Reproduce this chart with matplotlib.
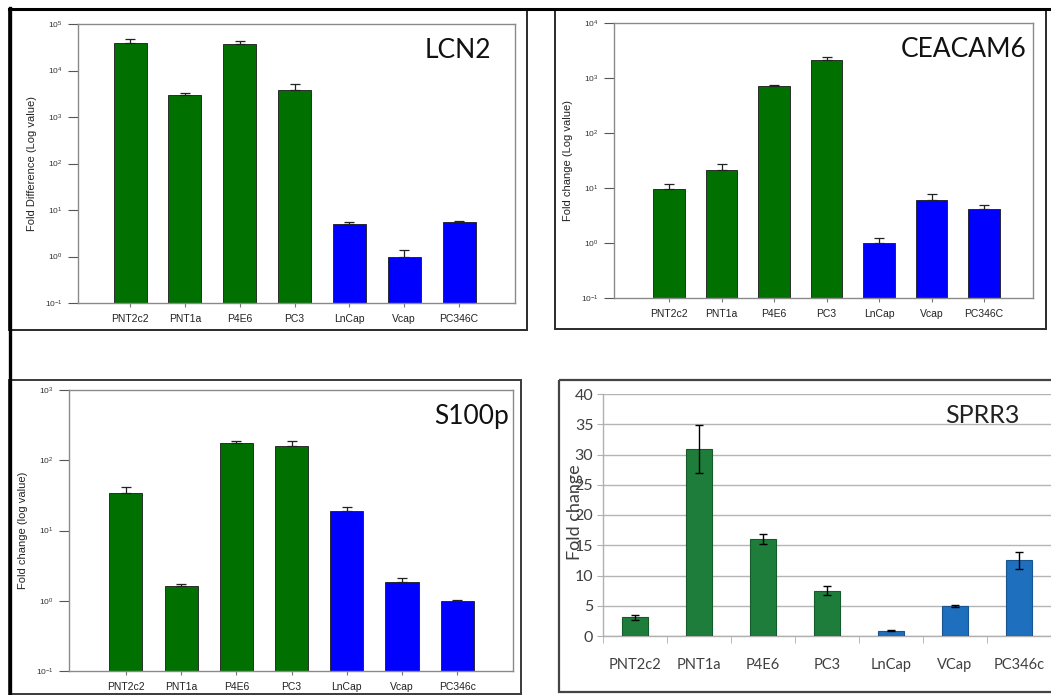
import numpy as np
import matplotlib
matplotlib.use('Agg')
import matplotlib.pyplot as plt
from matplotlib.patches import Rectangle
from matplotlib.ticker import LogLocator, NullLocator, FixedLocator

plt.rcParams['font.family'] = ['Liberation Sans', 'DejaVu Sans']
plt.rcParams['mathtext.fontset'] = 'custom'
plt.rcParams['mathtext.rm'] = 'Liberation Sans'
plt.rcParams['mathtext.it'] = 'Liberation Sans:italic'

# cell lines (first four green, last three blue)
lines_upper = ['PNT2c2', 'PNT1a', 'P4E6', 'PC3', 'LnCap', 'Vcap', 'PC346C']
lines_s100 = ['PNT2c2', 'PNT1a', 'P4E6', 'PC3', 'LnCap', 'Vcap', 'PC346c']
lines_sprr = ['PNT2c2', 'PNT1a', 'P4E6', 'PC3', 'LnCap', 'VCap', 'PC346c']

# LCN2 fold difference (log), bar top and upper error cap
lcn2 = [40000, 3000, 37000, 3900, 4.9, 1.0, 5.4]
lcn2_top = [48000, 3300, 44000, 5100, 5.6, 1.4, 5.7]

# CEACAM6 fold change (log)
ceacam6 = [9.4, 21.4, 707, 2140, 1.0, 6.0, 4.1]
ceacam6_top = [11.7, 27, 760, 2400, 1.25, 7.7, 5.0]

# S100p fold change (log)
s100p = [34, 1.62, 175, 160, 19, 1.83, 1.0]
s100p_top = [42, 1.73, 190, 190, 21.3, 2.1, 1.03]

# SPRR3 fold change (linear) with symmetric error
sprr3 = [3.1, 30.9, 16.05, 7.45, 0.9, 5.0, 12.5]
sprr3_err = [0.45, 3.9, 0.85, 0.75, 0.1, 0.2, 1.4]

W, H = 1051, 695
fig = plt.figure(figsize=(W / 100, H / 100), dpi=100)


def rect(l, t, r, b):
    return [l / W, 1 - b / H, (r - l) / W, (b - t) / H]


green, blue = '#007000', '#0000ff'
cols = [green] * 4 + [blue] * 3


def log_panel(pos, vals, tops, names, ylo, yhi, xlim, ylabel, title, tx):
    ax = fig.add_axes(rect(*pos))
    x = np.arange(len(vals))
    ax.set_yscale('log')
    up = np.array(tops) - np.array(vals)
    ax.bar(x, vals, width=0.6, color=cols, edgecolor='#1a1a1a', linewidth=0.6,
           yerr=[np.zeros(len(vals)), up], error_kw=dict(ecolor='#222', elinewidth=0.9,
                                                          capsize=3.5, capthick=0.9))
    ax.set_ylim(ylo, yhi)
    ax.set_xlim(*xlim)
    ax.yaxis.set_major_locator(LogLocator(base=10, numticks=20))
    ax.yaxis.set_minor_locator(NullLocator())
    ax.set_xticks(x)
    ax.set_xticklabels(names, fontsize=7.5, color='#222')
    ax.tick_params(axis='y', labelsize=6, colors='#555', length=7, width=0.8, pad=4, labelcolor='#333')
    ax.tick_params(axis='x', length=3, width=0.8, colors='#777', pad=5, labelcolor='#222')
    for s in ax.spines.values():
        s.set_color('#8a8a8a')
        s.set_linewidth(1.0)
    ax.set_ylabel(ylabel, fontsize=8, color='#222', labelpad=6)
    ax.text(tx, 0.95, title, transform=ax.transAxes, ha='right', va='top',
            fontsize=19, family=['Lato', 'DejaVu Sans'], color='#111')
    return ax


log_panel((78, 24, 515, 303), lcn2, lcn2_top, lines_upper, 0.1, 1e5, (-0.95, 7.02),
          'Fold Difference (Log value)', 'LCN2', 0.945)
log_panel((614, 23, 1033, 298), ceacam6, ceacam6_top, lines_upper, 0.1, 1e4, (-1.05, 6.93),
          'Fold change (Log value)', 'CEACAM6', 0.985)
log_panel((69, 390, 513, 671), s100p, s100p_top, lines_s100, 0.1, 1e3, (-1.03, 7.01),
          'Fold change (log value)', 'S100p', 0.99)

# SPRR3 linear panel
ax = fig.add_axes(rect(603, 394, 1051, 636))
x = np.arange(len(sprr3))
cols2 = ['#1f7d3b'] * 4 + ['#1f6fbf'] * 3
ax.bar(x, sprr3, width=0.4, color=cols2, edgecolor=['#155a2a'] * 4 + ['#18548f'] * 3,
       linewidth=0.8, yerr=sprr3_err,
       error_kw=dict(ecolor='black', elinewidth=1.0, capsize=3, capthick=1.0), zorder=3)
ax.set_xlim(-0.5, 6.5)
ax.set_ylim(0, 40)
ax.set_yticks(np.arange(0, 41, 5))
ax.yaxis.grid(True, color='#b5b5b5', linewidth=1.0)
ax.set_axisbelow(True)
ax.set_xticks(x)
ax.set_xticklabels(lines_sprr, fontsize=10.5, family=['Lato', 'DejaVu Sans'], color='#404040')
ax.xaxis.set_minor_locator(FixedLocator(np.arange(-0.5, 7, 1)))
ax.tick_params(axis='x', which='major', length=0, pad=16)
ax.tick_params(axis='x', which='minor', length=5, color='#b0b0b0')
ax.tick_params(axis='y', length=4, color='#b0b0b0', labelsize=11.5, labelcolor='#404040', pad=3)
for lab in ax.get_yticklabels():
    lab.set_family(['Lato', 'DejaVu Sans'])
for k in ['top', 'right']:
    ax.spines[k].set_visible(False)
for k in ['left', 'bottom']:
    ax.spines[k].set_color('#b0b0b0')
    ax.spines[k].set_linewidth(1.0)
ax.set_ylabel('Fold change', fontsize=13, family=['Lato', 'DejaVu Sans'], color='#404040')
ax.yaxis.set_label_coords(-0.045, 0.51)
ax.text(0.93, 0.96, 'SPRR3', transform=ax.transAxes, ha='right', va='top',
        fontsize=18, family=['Lato', 'DejaVu Sans'], color='#222')

# frames around the panels
ov = fig.add_axes([0, 0, 1, 1], zorder=10)
ov.set_xlim(0, W)
ov.set_ylim(H, 0)
ov.axis('off')
ov.patch.set_alpha(0)
ov.add_patch(Rectangle((9, 8.5), 518, 321.5, fill=False, edgecolor='#2a2a2a', linewidth=1.4))
ov.add_patch(Rectangle((555, 8.5), 491, 320.5, fill=False, edgecolor='#2a2a2a', linewidth=1.4))
ov.add_patch(Rectangle((9, 380), 512, 314, fill=False, edgecolor='#3a3a3a', linewidth=1.4))
ov.add_patch(Rectangle((559, 380), 520, 312, fill=False, edgecolor='#444', linewidth=1.6))
ov.plot([9, W], [8.5, 8.5], color='black', linewidth=2.2)
ov.plot([9.5, 9.5], [8, H], color='black', linewidth=2.4)

fig.savefig('out.png', dpi=100)
